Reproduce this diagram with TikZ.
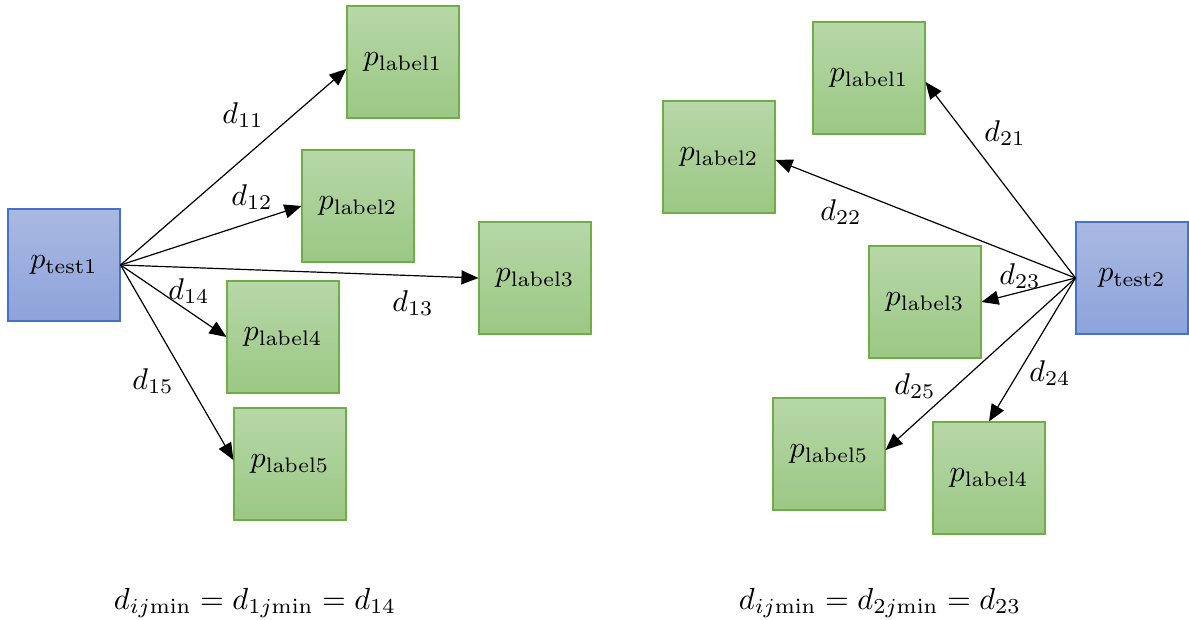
\documentclass[tikz,border=0pt]{standalone}
\usepackage{graphicx}
\usetikzlibrary{arrows.meta}
% enlarged math for box captions, distance labels and the summary lines
\newcommand{\boxmath}[1]{\scalebox{3.0}{$#1$}}
\newcommand{\distmath}[1]{\scalebox{3.0}{$#1$}}
\newcommand{\summath}[1]{\scalebox{3.05}{$#1$}}
\begin{document}
\begin{tikzpicture}[x=1pt,y=-1pt,
  labelbox/.style={draw=lbord, line width=1.1pt,
    top color=lgtop, bottom color=lgbot, minimum size=112pt, inner sep=0pt},
  testbox/.style={draw=tbord, line width=1.1pt,
    top color=tbtop, bottom color=tbbot, minimum size=112pt, inner sep=0pt},
  dist/.style={-{Triangle[length=17pt,width=14pt]}, line width=1.2pt},
  dlab/.style={inner sep=1pt},
  formula/.style={inner sep=1pt}
]
\definecolor{lbord}{HTML}{70AD47}
\definecolor{lgtop}{HTML}{B7D7A8}
\definecolor{lgbot}{HTML}{9BC884}
\definecolor{tbord}{HTML}{4472C4}
\definecolor{tbtop}{HTML}{AAB9E2}
\definecolor{tbbot}{HTML}{8EA3DB}
\useasboundingbox (0,0) rectangle (1189,619);

% left group
\node[testbox]  (t1)  at (64,265)  {\boxmath{p_{\mathrm{test1}}}};
\node[labelbox] (a1)  at (403,62)  {\boxmath{p_{\mathrm{label1}}}};
\node[labelbox] (a2)  at (358,206) {\boxmath{p_{\mathrm{label2}}}};
\node[labelbox] (a3)  at (535,278) {\boxmath{p_{\mathrm{label3}}}};
\node[labelbox] (a4)  at (283,337) {\boxmath{p_{\mathrm{label4}}}};
\node[labelbox] (a5)  at (290,464) {\boxmath{p_{\mathrm{label5}}}};

\draw[dist] (t1.east) -- (a1.187);
\draw[dist] (t1.east) -- (a2.west);
\draw[dist] (t1.east) -- (a3.west);
\draw[dist] (t1.east) -- (a4.west);
\draw[dist] (t1.east) -- (a5.176);

\node[dlab] (d11) at (243,115) {\distmath{d_{11}}};
\node[dlab] (d12) at (252,197) {\distmath{d_{12}}};
\node[dlab] (d14) at (189,291) {\distmath{d_{14}}};
\node[dlab] (d13) at (413,303) {\distmath{d_{13}}};
\node[dlab] (d15) at (153,381) {\distmath{d_{15}}};

% right group
\node[testbox]  (t2)  at (1132,278) {\boxmath{p_{\mathrm{test2}}}};
\node[labelbox] (b1)  at (869,78)   {\boxmath{p_{\mathrm{label1}}}};
\node[labelbox] (b2)  at (719,157)  {\boxmath{p_{\mathrm{label2}}}};
\node[labelbox] (b3)  at (925,302)  {\boxmath{p_{\mathrm{label3}}}};
\node[labelbox] (b5)  at (829,454)  {\boxmath{p_{\mathrm{label5}}}};
\node[labelbox] (b4)  at (989,478)  {\boxmath{p_{\mathrm{label4}}}};

\draw[dist] (t2.west) -- (b1.356);
\draw[dist] (t2.west) -- (b2.357);
\draw[dist] (t2.west) -- (b3.east);
\draw[dist] (t2.west) -- (b4.north);
\draw[dist] (t2.west) -- (b5.4);

\node[dlab] (d21) at (1005,133) {\distmath{d_{21}}};
\node[dlab] (d22) at (841,212)  {\distmath{d_{22}}};
\node[dlab] (d23) at (1020,276) {\distmath{d_{23}}};
\node[dlab] (d25) at (915,386)  {\distmath{d_{25}}};
\node[dlab] (d24) at (1050,373) {\distmath{d_{24}}};

% minimum distances
\node[formula] (m1) at (255,603) {\summath{d_{ij\mathrm{min}} = d_{1j\mathrm{min}} = d_{14}}};
\node[formula] (m2) at (880,603) {\summath{d_{ij\mathrm{min}} = d_{2j\mathrm{min}} = d_{23}}};
\end{tikzpicture}
\end{document}
